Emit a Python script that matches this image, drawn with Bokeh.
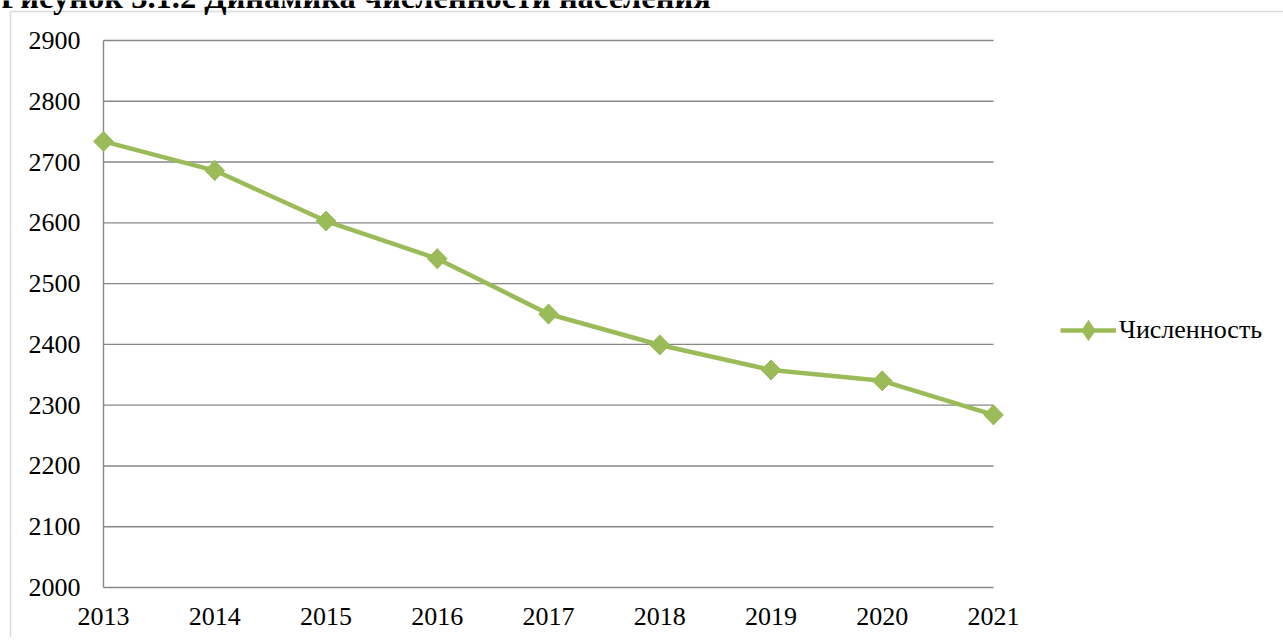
from bokeh.plotting import figure
from bokeh.models import (Range1d, FixedTicker, Legend, LegendItem, Label,
                          PolyAnnotation, GlobalInlineStyleSheet, ColumnDataSource)
from bokeh.embed import file_html
from bokeh.resources import INLINE
import numpy as np

# ---- data ----
years = [2013, 2014, 2015, 2016, 2017, 2018, 2019, 2020, 2021]
population = [2734, 2686, 2603, 2541, 2450, 2399, 2358, 2340, 2284]
y_ticks = [2000, 2100, 2200, 2300, 2400, 2500, 2600, 2700, 2800, 2900]
series_name = "Численность"
title_text = "Рисунок 3.1.2 Динамика  численности населения"

GREEN = "#9BBB59"
GRID = "#878787"
FONT = "Liberation Serif"

# ---- layout constants (page pixels) ----
W, H = 1283, 641
FL, FB = 2, 4                 # min borders left / bottom
FRAME_L, FRAME_R, FRAME_T, FRAME_B = FL, W, 0, H - FB
PLOT_X0, PLOT_X1 = 103, 993   # first / last year position
PLOT_Y0, PLOT_Y1 = 587, 40    # 2000 / 2900 position
xpx = (PLOT_X1 - PLOT_X0) / (years[-1] - years[0])
ypx = (PLOT_Y0 - PLOT_Y1) / (y_ticks[-1] - y_ticks[0])

def dx(px):
    return years[0] + (px - PLOT_X0) / xpx

def dy(py):
    return y_ticks[0] + (PLOT_Y0 - py) / ypx

p = figure(width=W, height=H, output_backend="svg", toolbar_location=None,
           x_range=Range1d(dx(FRAME_L), dx(FRAME_R)),
           y_range=Range1d(dy(FRAME_B), dy(FRAME_T)),
           min_border_left=FL, min_border_right=0,
           min_border_top=0, min_border_bottom=FB)
p.title = None
p.outline_line_color = None
p.background_fill_color = "white"
p.border_fill_color = "white"
p.xgrid.visible = False
p.ygrid.visible = False

# axes
p.xaxis.ticker = FixedTicker(ticks=years)
p.yaxis.ticker = FixedTicker(ticks=y_ticks)
for ax in (p.xaxis[0], p.yaxis[0]):
    ax.axis_line_color = None
    ax.major_tick_line_color = None
    ax.minor_tick_line_color = None
    ax.major_tick_out = 0
    ax.major_tick_in = 0
    ax.major_label_text_font = FONT
    ax.major_label_text_font_size = "26px"
    ax.major_label_text_color = "black"
# y labels right-aligned at x=80 (label right edge = axis - standoff)
YS = -51
p.yaxis.major_label_standoff = YS
p.yaxis.fixed_location = dx(80 + YS)
# x labels just below the 2000 line
XS = -29
p.xaxis.major_label_standoff = XS
p.xaxis.fixed_location = dy(PLOT_Y0 + 20 - XS)

# gridlines (limited to category extent) and vertical axis line
n = len(y_ticks)
p.segment(x0=[years[0]] * n, x1=[years[-1]] * n, y0=y_ticks, y1=y_ticks,
          line_color=GRID, line_width=1.4)
p.segment(x0=[years[0]], x1=[years[0]], y0=[y_ticks[0]], y1=[y_ticks[-1]],
          line_color=GRID, line_width=1.4)

src = ColumnDataSource(dict(x=years, y=population))
ln = p.line("x", "y", source=src, line_color=GREEN, line_width=4.5)
mk = p.scatter("x", "y", source=src, marker="square", size=14, angle=np.pi / 4,
               fill_color=GREEN, line_color=GREEN)
# diamond drawn inside the rotated squares; used for the legend swatch
mk_leg = p.scatter("x", "y", source=src, marker="diamond", size=20,
                   fill_color=GREEN, line_color=GREEN)

# legend (screen units relative to frame bottom-left)
GH = 50
legend = Legend(items=[LegendItem(label=series_name, renderers=[ln, mk_leg])],
                location=(1060 - FRAME_L, FRAME_B - (330 + GH // 2)),
                border_line_color=None,
                background_fill_alpha=0, padding=0, margin=0, spacing=0,
                glyph_width=56, glyph_height=GH, label_height=30,
                label_standoff=3, label_text_font=FONT,
                label_text_font_size="26px", label_text_color="black")
p.add_layout(legend, "center")

# outer chart border (top/left visible)
bx0, by0 = 10 - FRAME_L, FRAME_B - 11
p.add_layout(PolyAnnotation(xs=[bx0, bx0, 1300, 1300], ys=[-20, by0, by0, -20],
                            xs_units="screen", ys_units="screen",
                            line_color=GRID, line_width=1.5, fill_alpha=0))

# partially visible caption above the chart (baseline at y~7)
TFS = 32.5
p.add_layout(Label(x=0 - FRAME_L, y=FRAME_B - (7 - 0.3375 * TFS),
                   x_units="screen", y_units="screen",
                   text=title_text, text_font=FONT, text_font_style="bold",
                   text_font_size=f"{TFS}px", text_color="black",
                   text_baseline="middle"))

p.stylesheets = [GlobalInlineStyleSheet(css="html, body { margin: 0 !important; padding: 0; overflow: hidden; }")]

open("out.html", "w").write(file_html(p, INLINE))
